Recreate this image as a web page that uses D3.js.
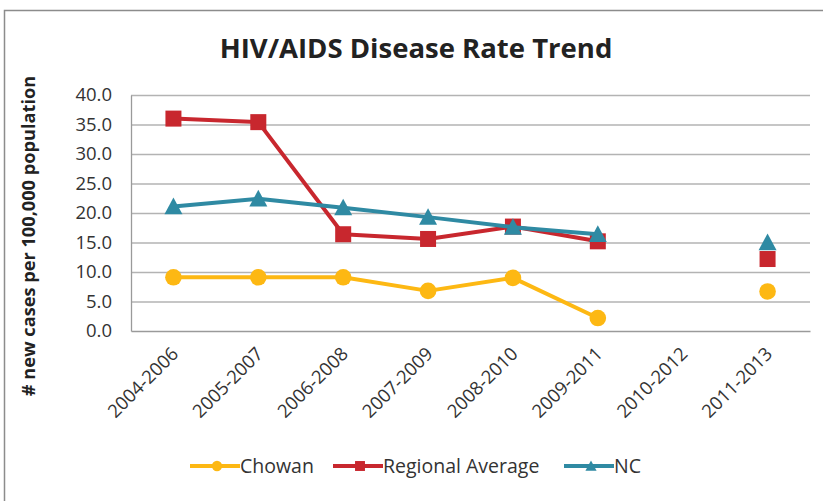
<!DOCTYPE html>
<html>
<head>
<meta charset="utf-8">
<script src="https://cdn.jsdelivr.net/npm/d3@7"></script>
<style>
  html, body { margin: 0; padding: 0; background: #fff; }
  svg { display: block; }
  text { font-family: "Open Sans", sans-serif; }
</style>
</head>
<body>
<svg id="chart" width="823" height="501"></svg>
<script>
// Three-year periods and rates (new cases per 100,000 population)
const periods = ["2004-2006", "2005-2007", "2006-2008", "2007-2009", "2008-2010", "2009-2011", "2010-2012", "2011-2013"];
const chowan   = [9.1, 9.1, 9.1, 6.8, 9.0, 2.2, null, 6.7];
const regional = [36.0, 35.4, 16.4, 15.6, 17.7, 15.2, null, 12.2];
const nc       = [21.1, 22.4, 20.9, 19.3, 17.6, 16.4, null, 15.0];
const yTicks = [0, 5, 10, 15, 20, 25, 30, 35, 40];

const seriesList = [
  { name: "Chowan", values: chowan, color: "#FDB813", marker: "circle" },
  { name: "Regional Average", values: regional, color: "#C8272E", marker: "square" },
  { name: "NC", values: nc, color: "#2F8AA3", marker: "triangle" }
];

const svg = d3.select("#chart");
const W = 823, H = 501;

// chart frame
svg.append("rect").attr("x", 4.5).attr("y", 10.5).attr("width", W + 10).attr("height", H + 10)
  .attr("fill", "#fff").attr("stroke", "#8c8c8c").attr("stroke-width", 1.5);

const plot = { left: 131, right: 810, top: 95, bottom: 331 };

const x = d3.scaleBand().domain(periods).range([plot.left, plot.right]);
const y = d3.scaleLinear().domain([0, 40]).range([plot.bottom, plot.top]);
const cx = p => x(p) + x.bandwidth() / 2;

// title
svg.append("text").attr("x", 416).attr("y", 58).attr("text-anchor", "middle")
  .attr("font-size", 27.5).attr("font-weight", "bold").attr("fill", "#222")
  .text("HIV/AIDS Disease Rate Trend");

// gridlines
svg.append("g").selectAll("line").data(yTicks.filter(d => d > 0)).join("line")
  .attr("x1", plot.left).attr("x2", plot.right)
  .attr("y1", d => y(d) + 0.5).attr("y2", d => y(d) + 0.5)
  .attr("stroke", "#b3b3b3").attr("stroke-width", 1.3);

// y axis
const yAxis = svg.append("g").attr("transform", `translate(${plot.left},0)`)
  .call(d3.axisLeft(y).tickValues(yTicks).tickFormat(d3.format(".1f")).tickSize(0).tickPadding(19));
yAxis.select(".domain").attr("stroke", "#9a9a9a").attr("stroke-width", 1.3);
yAxis.selectAll("text").attr("font-size", 18.5).attr("fill", "#333");

// x axis
const xAxis = svg.append("g").attr("transform", `translate(0,${plot.bottom})`)
  .call(d3.axisBottom(x).tickSize(0).tickPadding(0));
xAxis.select(".domain").attr("stroke", "#9a9a9a").attr("stroke-width", 1.3);
xAxis.selectAll("text")
  .attr("font-size", 18.5).attr("fill", "#333")
  .attr("text-anchor", "end").attr("dy", 0)
  .attr("transform", "translate(6,24) rotate(-45)");

// y axis title
svg.append("text")
  .attr("transform", `translate(35,236) rotate(-90)`)
  .attr("text-anchor", "middle").attr("font-size", 18.2).attr("font-weight", "bold").attr("fill", "#222")
  .text("# new cases per 100,000 population");

function drawMarker(g, type, color, px, py, scale) {
  const s = scale || 1;
  if (type === "circle") {
    g.append("circle").attr("cx", px).attr("cy", py).attr("r", 8.3 * s).attr("fill", color);
  } else if (type === "square") {
    const h = 8 * s;
    g.append("rect").attr("x", px - h).attr("y", py - h).attr("width", 2 * h).attr("height", 2 * h).attr("fill", color);
  } else {
    const h = 9 * s;
    g.append("path").attr("d", `M${px},${py - h}L${px + h},${py + h * 0.85}L${px - h},${py + h * 0.85}Z`).attr("fill", color);
  }
}

// series
const line = d3.line().defined(d => d.v !== null).x(d => cx(d.p)).y(d => y(d.v));
seriesList.forEach(s => {
  const pts = periods.map((p, i) => ({ p, v: s.values[i] }));
  const g = svg.append("g");
  g.append("path").datum(pts).attr("d", line).attr("fill", "none")
    .attr("stroke", s.color).attr("stroke-width", 4).attr("stroke-linejoin", "round");
  pts.filter(d => d.v !== null).forEach(d => drawMarker(g, s.marker, s.color, cx(d.p), y(d.v)));
});

// legend
const legendItems = [
  { s: seriesList[0], x: 190 },
  { s: seriesList[1], x: 333 },
  { s: seriesList[2], x: 564 }
];
const ly = 466;
legendItems.forEach(({ s, x: lx }) => {
  const g = svg.append("g");
  g.append("line").attr("x1", lx).attr("x2", lx + 50).attr("y1", ly).attr("y2", ly)
    .attr("stroke", s.color).attr("stroke-width", 4);
  drawMarker(g, s.marker, s.color, lx + 27, ly, 0.62);
  g.append("text").attr("x", lx + 50).attr("y", ly + 7).attr("font-size", 19.5).attr("fill", "#333").text(s.name);
});
</script>
</body>
</html>
